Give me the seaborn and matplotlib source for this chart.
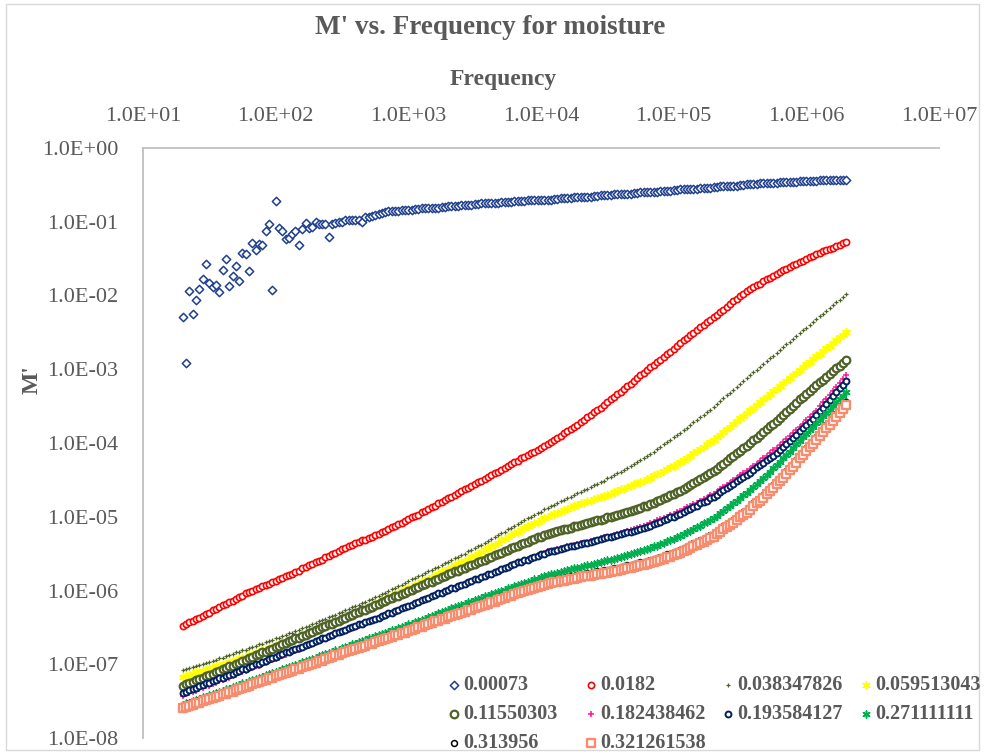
import numpy as np
import matplotlib
matplotlib.use("Agg")
import matplotlib.pyplot as plt
from matplotlib.ticker import FixedLocator, FuncFormatter, NullLocator
from matplotlib.patches import Rectangle
from matplotlib.font_manager import FontProperties
import seaborn as sns

# Measurement frequencies (Hz), 20 Hz to 2 MHz, 40 points per decade
freq = [
    20.0, 21.1, 22.4, 23.7, 25.1, 26.6, 28.2, 29.9, 31.6, 33.5,
    35.5, 37.6, 39.8, 42.2, 44.7, 47.3, 50.1, 53.1, 56.2, 59.6,
    63.1, 66.8, 70.8, 75.0, 79.4, 84.1, 89.1, 94.4,
    100, 106, 112, 119, 126, 133, 141, 150, 158, 168,
    178, 188, 200, 211, 224, 237, 251, 266, 282, 299,
    316, 335, 355, 376, 398, 422, 447, 473, 501, 531,
    562, 596, 631, 668, 708, 750, 794, 841, 891, 944,
    1.00e3, 1.06e3, 1.12e3, 1.19e3, 1.26e3, 1.33e3, 1.41e3, 1.50e3, 1.58e3, 1.68e3,
    1.78e3, 1.88e3, 2.00e3, 2.11e3, 2.24e3, 2.37e3, 2.51e3, 2.66e3, 2.82e3, 2.99e3,
    3.16e3, 3.35e3, 3.55e3, 3.76e3, 3.98e3, 4.22e3, 4.47e3, 4.73e3, 5.01e3, 5.31e3,
    5.62e3, 5.96e3, 6.31e3, 6.68e3, 7.08e3, 7.50e3, 7.94e3, 8.41e3, 8.91e3, 9.44e3,
    1.00e4, 1.06e4, 1.12e4, 1.19e4, 1.26e4, 1.33e4, 1.41e4, 1.50e4, 1.58e4, 1.68e4,
    1.78e4, 1.88e4, 2.00e4, 2.11e4, 2.24e4, 2.37e4, 2.51e4, 2.66e4, 2.82e4, 2.99e4,
    3.16e4, 3.35e4, 3.55e4, 3.76e4, 3.98e4, 4.22e4, 4.47e4, 4.73e4, 5.01e4, 5.31e4,
    5.62e4, 5.96e4, 6.31e4, 6.68e4, 7.08e4, 7.50e4, 7.94e4, 8.41e4, 8.91e4, 9.44e4,
    1.00e5, 1.06e5, 1.12e5, 1.19e5, 1.26e5, 1.33e5, 1.41e5, 1.50e5, 1.58e5, 1.68e5,
    1.78e5, 1.88e5, 2.00e5, 2.11e5, 2.24e5, 2.37e5, 2.51e5, 2.66e5, 2.82e5, 2.99e5,
    3.16e5, 3.35e5, 3.55e5, 3.76e5, 3.98e5, 4.22e5, 4.47e5, 4.73e5, 5.01e5, 5.31e5,
    5.62e5, 5.96e5, 6.31e5, 6.68e5, 7.08e5, 7.50e5, 7.94e5, 8.41e5, 8.91e5, 9.44e5,
    1.00e6, 1.06e6, 1.12e6, 1.19e6, 1.26e6, 1.33e6, 1.41e6, 1.50e6, 1.58e6, 1.68e6,
    1.78e6, 1.88e6, 2.00e6,
]

# Moisture content of each sample (legend labels)
moisture = ["0.00073", "0.0182", "0.038347826", "0.059513043", "0.11550303",
            "0.182438462", "0.193584127", "0.271111111", "0.313956", "0.321261538"]

# M' readings, stored as base-10 exponents (M' = 10 ** value)
m_0_00073 = [
    -2.29, -2.92, -1.94, -2.25, -2.06, -1.91, -1.78, -1.57, -1.83, -1.89,
    -1.86, -1.95, -1.65, -1.50, -1.87, -1.74, -1.60, -1.81, -1.42, -1.44,
    -1.67, -1.29, -1.38, -1.30, -1.31, -1.13, -1.03, -1.92, -0.72, -1.09,
    -1.12, -1.24, -1.22, -1.17, -1.13, -1.32, -1.10, -1.02, -1.08, -1.07,
    -1.00, -1.03, -1.03, -1.03, -1.20, -1.03, -1.02, -1.01, -1.00, -0.98,
    -0.97, -0.98, -0.97, -0.97, -1.00, -0.93, -0.93, -0.92, -0.91, -0.89,
    -0.88, -0.87, -0.86, -0.86, -0.85, -0.85, -0.84, -0.84, -0.84, -0.84,
    -0.83, -0.83, -0.82, -0.82, -0.81, -0.81, -0.81, -0.81, -0.80, -0.80,
    -0.79, -0.79, -0.78, -0.78, -0.77, -0.77, -0.77, -0.77, -0.76, -0.76,
    -0.75, -0.75, -0.75, -0.75, -0.74, -0.74, -0.73, -0.73, -0.73, -0.73,
    -0.72, -0.72, -0.72, -0.72, -0.71, -0.71, -0.71, -0.71, -0.70, -0.70,
    -0.70, -0.70, -0.69, -0.69, -0.68, -0.68, -0.68, -0.68, -0.67, -0.67,
    -0.66, -0.66, -0.66, -0.66, -0.65, -0.65, -0.64, -0.64, -0.64, -0.64,
    -0.63, -0.63, -0.62, -0.62, -0.62, -0.62, -0.61, -0.61, -0.60, -0.60,
    -0.60, -0.60, -0.59, -0.59, -0.58, -0.58, -0.58, -0.58, -0.57, -0.57,
    -0.56, -0.56, -0.56, -0.56, -0.55, -0.55, -0.54, -0.54, -0.54, -0.54,
    -0.53, -0.53, -0.52, -0.52, -0.52, -0.52, -0.51, -0.51, -0.50, -0.50,
    -0.49, -0.49, -0.49, -0.49, -0.48, -0.48, -0.47, -0.47, -0.47, -0.47,
    -0.46, -0.46, -0.46, -0.46, -0.46, -0.46, -0.45, -0.45, -0.45, -0.45,
    -0.45, -0.45, -0.44, -0.44, -0.44, -0.44, -0.44, -0.44, -0.43, -0.43,
    -0.43,
]
m_0_0182 = [
    -6.48,
    -6.46, -6.43, -6.41, -6.39, -6.37, -6.34, -6.32, -6.30, -6.27, -6.25,
    -6.23, -6.20, -6.18, -6.16, -6.14, -6.11, -6.09, -6.07, -6.04, -6.02,
    -6.00, -5.98, -5.96, -5.94, -5.93, -5.91, -5.89, -5.87, -5.85, -5.83,
    -5.81, -5.79, -5.77, -5.75, -5.73, -5.70, -5.68, -5.66, -5.64, -5.62,
    -5.60, -5.58, -5.55, -5.53, -5.51, -5.49, -5.47, -5.44, -5.42, -5.40,
    -5.38, -5.36, -5.34, -5.32, -5.31, -5.29, -5.27, -5.25, -5.23, -5.21,
    -5.19, -5.17, -5.14, -5.12, -5.10, -5.08, -5.06, -5.03, -5.01, -4.99,
    -4.97, -4.94, -4.92, -4.89, -4.87, -4.85, -4.82, -4.80, -4.77, -4.75,
    -4.73, -4.70, -4.68, -4.65, -4.63, -4.61, -4.58, -4.56, -4.53, -4.51,
    -4.49, -4.46, -4.44, -4.41, -4.39, -4.36, -4.34, -4.31, -4.29, -4.26,
    -4.24, -4.21, -4.19, -4.16, -4.14, -4.12, -4.09, -4.07, -4.04, -4.02,
    -3.99, -3.96, -3.93, -3.90, -3.87, -3.84, -3.81, -3.78, -3.75, -3.72,
    -3.69, -3.65, -3.62, -3.58, -3.55, -3.52, -3.48, -3.45, -3.41, -3.38,
    -3.34, -3.31, -3.27, -3.23, -3.20, -3.16, -3.12, -3.08, -3.05, -3.01,
    -2.97, -2.94, -2.90, -2.87, -2.83, -2.79, -2.76, -2.72, -2.69, -2.65,
    -2.61, -2.58, -2.54, -2.51, -2.47, -2.43, -2.40, -2.36, -2.33, -2.29,
    -2.26, -2.22, -2.19, -2.15, -2.12, -2.08, -2.05, -2.01, -1.98, -1.94,
    -1.91, -1.89, -1.86, -1.84, -1.81, -1.78, -1.76, -1.73, -1.71, -1.68,
    -1.66, -1.64, -1.61, -1.59, -1.57, -1.55, -1.53, -1.50, -1.48, -1.46,
    -1.44, -1.42, -1.40, -1.38, -1.37, -1.35, -1.33, -1.31, -1.29, -1.27,
]
m_0_038347826 = [
    -7.08,
    -7.07, -7.05, -7.04, -7.02, -7.01, -7.00, -6.98, -6.97, -6.95, -6.94,
    -6.92, -6.91, -6.89, -6.88, -6.86, -6.84, -6.83, -6.81, -6.80, -6.78,
    -6.76, -6.75, -6.73, -6.72, -6.70, -6.68, -6.67, -6.65, -6.64, -6.62,
    -6.60, -6.58, -6.57, -6.55, -6.53, -6.51, -6.49, -6.48, -6.46, -6.44,
    -6.42, -6.40, -6.38, -6.36, -6.35, -6.33, -6.31, -6.29, -6.27, -6.25,
    -6.23, -6.21, -6.19, -6.17, -6.15, -6.13, -6.11, -6.09, -6.07, -6.05,
    -6.03, -6.01, -5.98, -5.96, -5.94, -5.92, -5.90, -5.87, -5.85, -5.83,
    -5.81, -5.79, -5.76, -5.74, -5.72, -5.70, -5.68, -5.65, -5.63, -5.61,
    -5.59, -5.56, -5.54, -5.52, -5.50, -5.47, -5.45, -5.43, -5.40, -5.38,
    -5.35, -5.33, -5.30, -5.28, -5.25, -5.22, -5.20, -5.17, -5.15, -5.12,
    -5.10, -5.07, -5.05, -5.02, -5.00, -4.98, -4.95, -4.93, -4.90, -4.88,
    -4.86, -4.84, -4.81, -4.79, -4.77, -4.75, -4.73, -4.70, -4.68, -4.66,
    -4.64, -4.62, -4.59, -4.57, -4.55, -4.53, -4.51, -4.48, -4.46, -4.44,
    -4.41, -4.39, -4.36, -4.34, -4.31, -4.28, -4.26, -4.23, -4.21, -4.18,
    -4.15, -4.12, -4.08, -4.05, -4.02, -3.99, -3.96, -3.92, -3.89, -3.86,
    -3.83, -3.79, -3.76, -3.72, -3.69, -3.65, -3.62, -3.58, -3.55, -3.51,
    -3.47, -3.43, -3.39, -3.35, -3.32, -3.28, -3.24, -3.20, -3.16, -3.12,
    -3.08, -3.04, -3.01, -2.97, -2.93, -2.89, -2.85, -2.82, -2.78, -2.74,
    -2.70, -2.66, -2.63, -2.59, -2.55, -2.51, -2.47, -2.44, -2.40, -2.36,
    -2.32, -2.28, -2.25, -2.21, -2.17, -2.13, -2.09, -2.06, -2.02, -1.98,
]
m_0_059513043 = [
    -7.17,
    -7.16, -7.14, -7.13, -7.11, -7.10, -7.09, -7.07, -7.06, -7.04, -7.03,
    -7.02, -7.00, -6.99, -6.97, -6.96, -6.94, -6.93, -6.91, -6.90, -6.88,
    -6.86, -6.85, -6.83, -6.81, -6.80, -6.78, -6.76, -6.74, -6.73, -6.71,
    -6.69, -6.68, -6.66, -6.64, -6.63, -6.61, -6.59, -6.57, -6.56, -6.54,
    -6.52, -6.50, -6.48, -6.46, -6.45, -6.43, -6.41, -6.39, -6.37, -6.35,
    -6.33, -6.31, -6.29, -6.27, -6.25, -6.22, -6.20, -6.18, -6.16, -6.14,
    -6.12, -6.10, -6.08, -6.06, -6.04, -6.01, -5.99, -5.97, -5.95, -5.93,
    -5.91, -5.89, -5.86, -5.84, -5.82, -5.80, -5.78, -5.75, -5.73, -5.71,
    -5.69, -5.66, -5.64, -5.62, -5.60, -5.57, -5.55, -5.53, -5.50, -5.48,
    -5.45, -5.43, -5.40, -5.38, -5.35, -5.32, -5.30, -5.27, -5.25, -5.22,
    -5.20, -5.18, -5.15, -5.13, -5.11, -5.09, -5.07, -5.04, -5.02, -5.00,
    -4.98, -4.96, -4.95, -4.93, -4.91, -4.89, -4.87, -4.86, -4.84, -4.82,
    -4.81, -4.79, -4.78, -4.76, -4.75, -4.73, -4.72, -4.70, -4.69, -4.67,
    -4.65, -4.63, -4.62, -4.60, -4.58, -4.56, -4.54, -4.53, -4.51, -4.49,
    -4.47, -4.44, -4.42, -4.40, -4.38, -4.35, -4.33, -4.31, -4.28, -4.26,
    -4.23, -4.20, -4.17, -4.14, -4.11, -4.08, -4.05, -4.02, -3.99, -3.96,
    -3.92, -3.89, -3.85, -3.81, -3.78, -3.74, -3.70, -3.66, -3.63, -3.59,
    -3.55, -3.52, -3.48, -3.45, -3.41, -3.37, -3.34, -3.30, -3.27, -3.23,
    -3.19, -3.16, -3.12, -3.08, -3.05, -3.01, -2.97, -2.93, -2.90, -2.86,
    -2.82, -2.79, -2.75, -2.71, -2.68, -2.64, -2.60, -2.56, -2.53, -2.49,
]
m_0_11550303 = [
    -7.29,
    -7.27, -7.25, -7.24, -7.22, -7.20, -7.18, -7.16, -7.15, -7.13, -7.11,
    -7.09, -7.07, -7.05, -7.03, -7.02, -7.00, -6.98, -6.96, -6.94, -6.92,
    -6.90, -6.88, -6.86, -6.84, -6.83, -6.81, -6.79, -6.77, -6.75, -6.73,
    -6.71, -6.69, -6.67, -6.65, -6.64, -6.62, -6.60, -6.58, -6.56, -6.54,
    -6.52, -6.50, -6.48, -6.46, -6.45, -6.43, -6.41, -6.39, -6.37, -6.35,
    -6.33, -6.31, -6.29, -6.27, -6.26, -6.24, -6.22, -6.20, -6.18, -6.16,
    -6.14, -6.12, -6.10, -6.08, -6.07, -6.05, -6.03, -6.01, -5.99, -5.97,
    -5.95, -5.93, -5.91, -5.89, -5.88, -5.86, -5.84, -5.82, -5.80, -5.78,
    -5.76, -5.74, -5.73, -5.71, -5.69, -5.67, -5.65, -5.64, -5.62, -5.60,
    -5.58, -5.56, -5.54, -5.52, -5.51, -5.49, -5.47, -5.45, -5.43, -5.41,
    -5.39, -5.37, -5.36, -5.34, -5.32, -5.30, -5.28, -5.27, -5.25, -5.23,
    -5.22, -5.21, -5.19, -5.18, -5.17, -5.16, -5.15, -5.13, -5.12, -5.11,
    -5.10, -5.09, -5.07, -5.06, -5.05, -5.04, -5.03, -5.01, -5.00, -4.99,
    -4.98, -4.96, -4.95, -4.93, -4.92, -4.91, -4.89, -4.88, -4.86, -4.85,
    -4.83, -4.81, -4.79, -4.77, -4.75, -4.73, -4.71, -4.69, -4.67, -4.65,
    -4.62, -4.60, -4.57, -4.54, -4.52, -4.49, -4.46, -4.43, -4.41, -4.38,
    -4.35, -4.31, -4.28, -4.24, -4.21, -4.18, -4.14, -4.11, -4.07, -4.04,
    -4.00, -3.96, -3.93, -3.89, -3.85, -3.81, -3.77, -3.74, -3.70, -3.66,
    -3.62, -3.58, -3.54, -3.50, -3.46, -3.41, -3.37, -3.33, -3.29, -3.25,
    -3.21, -3.17, -3.14, -3.10, -3.06, -3.02, -2.98, -2.95, -2.91, -2.87,
]
m_0_182438462 = [
    -7.43,
    -7.41, -7.39, -7.38, -7.36, -7.34, -7.32, -7.30, -7.29, -7.27, -7.25,
    -7.23, -7.21, -7.20, -7.18, -7.16, -7.14, -7.12, -7.11, -7.09, -7.07,
    -7.05, -7.03, -7.02, -7.00, -6.98, -6.96, -6.94, -6.93, -6.91, -6.89,
    -6.87, -6.85, -6.84, -6.82, -6.80, -6.78, -6.76, -6.75, -6.73, -6.71,
    -6.69, -6.67, -6.66, -6.64, -6.62, -6.60, -6.58, -6.57, -6.55, -6.53,
    -6.51, -6.50, -6.48, -6.46, -6.45, -6.43, -6.41, -6.39, -6.38, -6.36,
    -6.34, -6.32, -6.31, -6.29, -6.27, -6.25, -6.23, -6.22, -6.20, -6.18,
    -6.16, -6.14, -6.13, -6.11, -6.09, -6.07, -6.05, -6.04, -6.02, -6.00,
    -5.98, -5.96, -5.95, -5.93, -5.91, -5.89, -5.87, -5.86, -5.84, -5.82,
    -5.80, -5.78, -5.77, -5.75, -5.73, -5.71, -5.69, -5.68, -5.66, -5.64,
    -5.62, -5.61, -5.59, -5.57, -5.56, -5.54, -5.52, -5.50, -5.49, -5.47,
    -5.46, -5.45, -5.44, -5.43, -5.42, -5.40, -5.39, -5.38, -5.37, -5.36,
    -5.35, -5.34, -5.33, -5.32, -5.31, -5.29, -5.28, -5.27, -5.26, -5.25,
    -5.24, -5.22, -5.21, -5.19, -5.18, -5.17, -5.15, -5.14, -5.12, -5.11,
    -5.09, -5.07, -5.05, -5.03, -5.02, -5.00, -4.98, -4.96, -4.94, -4.92,
    -4.90, -4.87, -4.85, -4.83, -4.81, -4.78, -4.76, -4.74, -4.71, -4.69,
    -4.66, -4.63, -4.60, -4.57, -4.54, -4.50, -4.47, -4.44, -4.41, -4.38,
    -4.35, -4.31, -4.28, -4.24, -4.21, -4.17, -4.14, -4.10, -4.07, -4.03,
    -3.99, -3.95, -3.90, -3.86, -3.82, -3.78, -3.74, -3.69, -3.65, -3.61,
    -3.56, -3.50, -3.45, -3.40, -3.35, -3.29, -3.24, -3.19, -3.13, -3.08,
]
m_0_193584127 = [
    -7.39,
    -7.37, -7.35, -7.34, -7.32, -7.30, -7.28, -7.26, -7.25, -7.23, -7.21,
    -7.19, -7.18, -7.16, -7.14, -7.13, -7.11, -7.09, -7.07, -7.06, -7.04,
    -7.02, -7.00, -6.99, -6.97, -6.95, -6.93, -6.91, -6.90, -6.88, -6.86,
    -6.84, -6.83, -6.81, -6.79, -6.78, -6.76, -6.74, -6.72, -6.71, -6.69,
    -6.67, -6.65, -6.64, -6.62, -6.60, -6.58, -6.56, -6.55, -6.53, -6.51,
    -6.49, -6.48, -6.46, -6.45, -6.43, -6.41, -6.40, -6.38, -6.37, -6.35,
    -6.33, -6.31, -6.30, -6.28, -6.26, -6.24, -6.22, -6.21, -6.19, -6.17,
    -6.15, -6.13, -6.12, -6.10, -6.08, -6.06, -6.04, -6.03, -6.01, -5.99,
    -5.97, -5.96, -5.94, -5.92, -5.91, -5.89, -5.87, -5.85, -5.84, -5.82,
    -5.80, -5.78, -5.77, -5.75, -5.73, -5.71, -5.69, -5.68, -5.66, -5.64,
    -5.62, -5.61, -5.59, -5.58, -5.56, -5.54, -5.53, -5.51, -5.50, -5.48,
    -5.47, -5.46, -5.45, -5.44, -5.43, -5.41, -5.40, -5.39, -5.38, -5.37,
    -5.36, -5.35, -5.34, -5.33, -5.32, -5.30, -5.29, -5.28, -5.27, -5.26,
    -5.25, -5.24, -5.22, -5.21, -5.20, -5.19, -5.18, -5.16, -5.15, -5.14,
    -5.12, -5.10, -5.09, -5.07, -5.05, -5.03, -5.01, -5.00, -4.98, -4.96,
    -4.94, -4.91, -4.89, -4.87, -4.85, -4.82, -4.80, -4.78, -4.75, -4.73,
    -4.70, -4.67, -4.64, -4.61, -4.58, -4.55, -4.52, -4.49, -4.46, -4.43,
    -4.40, -4.36, -4.33, -4.30, -4.27, -4.23, -4.20, -4.17, -4.13, -4.10,
    -4.06, -4.01, -3.97, -3.93, -3.89, -3.84, -3.80, -3.76, -3.71, -3.67,
    -3.62, -3.57, -3.52, -3.47, -3.42, -3.36, -3.31, -3.26, -3.21, -3.16,
]
m_0_271111111 = [
    -7.55,
    -7.53, -7.52, -7.50, -7.49, -7.47, -7.45, -7.44, -7.42, -7.41, -7.39,
    -7.37, -7.36, -7.34, -7.33, -7.31, -7.29, -7.28, -7.26, -7.25, -7.23,
    -7.21, -7.20, -7.18, -7.17, -7.15, -7.13, -7.12, -7.10, -7.09, -7.07,
    -7.05, -7.04, -7.02, -7.01, -6.99, -6.97, -6.96, -6.94, -6.93, -6.91,
    -6.89, -6.88, -6.86, -6.85, -6.83, -6.81, -6.80, -6.78, -6.77, -6.75,
    -6.73, -6.72, -6.70, -6.69, -6.67, -6.65, -6.64, -6.62, -6.61, -6.59,
    -6.57, -6.56, -6.54, -6.53, -6.51, -6.49, -6.48, -6.46, -6.45, -6.43,
    -6.41, -6.40, -6.38, -6.36, -6.35, -6.33, -6.31, -6.29, -6.28, -6.26,
    -6.24, -6.23, -6.21, -6.20, -6.18, -6.16, -6.15, -6.13, -6.12, -6.10,
    -6.08, -6.07, -6.05, -6.04, -6.02, -6.00, -5.99, -5.97, -5.96, -5.94,
    -5.93, -5.91, -5.90, -5.88, -5.87, -5.85, -5.84, -5.82, -5.81, -5.79,
    -5.78, -5.77, -5.76, -5.75, -5.74, -5.72, -5.71, -5.70, -5.69, -5.68,
    -5.67, -5.66, -5.65, -5.64, -5.63, -5.61, -5.60, -5.59, -5.58, -5.57,
    -5.56, -5.54, -5.53, -5.52, -5.51, -5.49, -5.48, -5.47, -5.45, -5.44,
    -5.42, -5.40, -5.39, -5.37, -5.35, -5.33, -5.31, -5.30, -5.28, -5.26,
    -5.24, -5.21, -5.19, -5.16, -5.14, -5.12, -5.09, -5.07, -5.04, -5.02,
    -4.99, -4.95, -4.92, -4.88, -4.85, -4.82, -4.78, -4.75, -4.71, -4.68,
    -4.64, -4.60, -4.55, -4.51, -4.47, -4.43, -4.39, -4.34, -4.30, -4.26,
    -4.21, -4.16, -4.12, -4.07, -4.02, -3.97, -3.92, -3.88, -3.83, -3.78,
    -3.73, -3.69, -3.64, -3.59, -3.55, -3.50, -3.45, -3.40, -3.36, -3.31,
]
m_0_313956 = [
    -7.56,
    -7.55, -7.53, -7.52, -7.50, -7.49, -7.47, -7.46, -7.44, -7.43, -7.41,
    -7.40, -7.38, -7.37, -7.35, -7.34, -7.32, -7.31, -7.29, -7.28, -7.26,
    -7.24, -7.23, -7.21, -7.20, -7.18, -7.16, -7.15, -7.13, -7.12, -7.10,
    -7.09, -7.07, -7.06, -7.04, -7.03, -7.01, -7.00, -6.98, -6.97, -6.95,
    -6.93, -6.92, -6.90, -6.89, -6.87, -6.85, -6.84, -6.82, -6.81, -6.79,
    -6.78, -6.76, -6.75, -6.73, -6.72, -6.70, -6.69, -6.67, -6.66, -6.64,
    -6.63, -6.61, -6.60, -6.58, -6.57, -6.55, -6.54, -6.52, -6.51, -6.49,
    -6.47, -6.46, -6.44, -6.43, -6.41, -6.39, -6.38, -6.36, -6.35, -6.33,
    -6.32, -6.30, -6.29, -6.27, -6.26, -6.24, -6.23, -6.21, -6.20, -6.18,
    -6.16, -6.15, -6.13, -6.12, -6.10, -6.08, -6.07, -6.05, -6.04, -6.02,
    -6.01, -5.99, -5.98, -5.96, -5.95, -5.94, -5.92, -5.91, -5.89, -5.88,
    -5.87, -5.86, -5.85, -5.84, -5.83, -5.82, -5.81, -5.80, -5.79, -5.78,
    -5.77, -5.76, -5.76, -5.75, -5.74, -5.73, -5.72, -5.72, -5.71, -5.70,
    -5.69, -5.68, -5.67, -5.66, -5.65, -5.64, -5.63, -5.62, -5.61, -5.60,
    -5.59, -5.57, -5.56, -5.54, -5.53, -5.51, -5.50, -5.48, -5.47, -5.45,
    -5.43, -5.41, -5.38, -5.36, -5.34, -5.32, -5.30, -5.27, -5.25, -5.23,
    -5.20, -5.17, -5.13, -5.10, -5.07, -5.04, -5.01, -4.97, -4.94, -4.91,
    -4.87, -4.82, -4.78, -4.74, -4.70, -4.65, -4.61, -4.57, -4.52, -4.48,
    -4.43, -4.38, -4.33, -4.28, -4.23, -4.17, -4.12, -4.07, -4.02, -3.97,
    -3.92, -3.87, -3.81, -3.76, -3.71, -3.66, -3.61, -3.55, -3.50, -3.45,
]
m_0_321261538 = [
    -7.59,
    -7.58, -7.56, -7.55, -7.53, -7.52, -7.50, -7.49, -7.47, -7.46, -7.44,
    -7.43, -7.41, -7.40, -7.38, -7.37, -7.35, -7.34, -7.32, -7.31, -7.29,
    -7.27, -7.26, -7.24, -7.23, -7.21, -7.19, -7.18, -7.16, -7.15, -7.13,
    -7.12, -7.10, -7.09, -7.07, -7.06, -7.04, -7.03, -7.01, -7.00, -6.98,
    -6.96, -6.95, -6.93, -6.92, -6.90, -6.88, -6.87, -6.85, -6.84, -6.82,
    -6.81, -6.79, -6.78, -6.76, -6.75, -6.73, -6.72, -6.70, -6.69, -6.67,
    -6.66, -6.64, -6.63, -6.61, -6.60, -6.58, -6.57, -6.55, -6.54, -6.52,
    -6.50, -6.49, -6.47, -6.46, -6.44, -6.42, -6.41, -6.39, -6.38, -6.36,
    -6.35, -6.33, -6.32, -6.30, -6.29, -6.27, -6.26, -6.24, -6.23, -6.21,
    -6.19, -6.18, -6.16, -6.15, -6.13, -6.11, -6.10, -6.08, -6.07, -6.05,
    -6.04, -6.02, -6.01, -5.99, -5.98, -5.97, -5.95, -5.94, -5.92, -5.91,
    -5.90, -5.89, -5.88, -5.87, -5.87, -5.86, -5.85, -5.84, -5.83, -5.82,
    -5.81, -5.80, -5.80, -5.79, -5.78, -5.77, -5.76, -5.76, -5.75, -5.74,
    -5.73, -5.72, -5.71, -5.70, -5.69, -5.68, -5.67, -5.66, -5.65, -5.64,
    -5.63, -5.61, -5.60, -5.58, -5.57, -5.55, -5.54, -5.52, -5.51, -5.49,
    -5.47, -5.45, -5.42, -5.40, -5.38, -5.36, -5.34, -5.31, -5.29, -5.27,
    -5.24, -5.21, -5.17, -5.14, -5.11, -5.08, -5.05, -5.01, -4.98, -4.95,
    -4.91, -4.86, -4.82, -4.78, -4.74, -4.69, -4.65, -4.61, -4.56, -4.52,
    -4.47, -4.42, -4.37, -4.32, -4.27, -4.21, -4.16, -4.11, -4.06, -4.01,
    -3.96, -3.91, -3.85, -3.80, -3.75, -3.70, -3.65, -3.59, -3.54, -3.49,
]

# Tick positions (decades)
x_ticks = [1e1, 1e2, 1e3, 1e4, 1e5, 1e6, 1e7]
y_ticks = [1e-8, 1e-7, 1e-6, 1e-5, 1e-4, 1e-3, 1e-2, 1e-1, 1e0]

series = [m_0_00073, m_0_0182, m_0_038347826, m_0_059513043, m_0_11550303,
          m_0_182438462, m_0_193584127, m_0_271111111, m_0_313956, m_0_321261538]

# marker, size, face colour, edge colour, line width
styles = [
    ("D", 18, "white", "#1F3F8F", 1.1),
    ("o", 20, "white", "#FF0000", 1.2),
    ("+", 12, None, "#4F6228", 0.9),
    ((6, 2, 0), 30, None, "#FFFF00", 1.1),
    ("o", 30, "white", "#4F6228", 1.6),
    ("+", 22, None, "#FF1493", 1.1),
    ("o", 18, "white", "#002060", 1.4),
    ((6, 2, 0), 26, None, "#00B050", 1.1),
    ("o", 18, "white", "#000000", 1.1),
    ("s", 26, "white", "#F88C6F", 1.7),
]

W, H = 985, 754
TXT = "#595959"

sns.set_style("white")
plt.rcParams["font.family"] = ["Liberation Serif", "DejaVu Serif"]

fig = plt.figure(figsize=(W / 100, H / 100), dpi=100)
ax = fig.add_axes([143 / W, 1 - 738 / H, (939 - 143) / W, (738 - 148) / H])
ax.set_xscale("log")
ax.set_yscale("log")

handles = []
for vals, (mk, sz, face, edge, lw) in zip(series, styles):
    y = np.power(10.0, np.asarray(vals))
    fill = edge if face is None else face
    sns.scatterplot(x=freq, y=y, ax=ax, marker=mk, s=sz, color=fill,
                    edgecolor=edge, linewidth=lw, legend=False)
    handles.append(ax.collections[-1])

ax.set_xlim(1e1, 1e7)
ax.set_ylim(1e-8, 1e0)
ax.xaxis.set_major_locator(FixedLocator(x_ticks))
ax.yaxis.set_major_locator(FixedLocator(y_ticks))
ax.xaxis.set_minor_locator(NullLocator())
ax.yaxis.set_minor_locator(NullLocator())
sci = FuncFormatter(lambda v, _: f"{v:.1E}")
ax.xaxis.set_major_formatter(sci)
ax.yaxis.set_major_formatter(sci)
ax.xaxis.set_ticks_position("top")
ax.tick_params(axis="x", length=0, pad=16, labelsize=16, labelcolor=TXT)
ax.tick_params(axis="y", length=0, pad=18, labelsize=16, labelcolor=TXT)
ax.grid(False)

for side in ("right", "bottom"):
    ax.spines[side].set_visible(False)
for side in ("top", "left"):
    ax.spines[side].set_color("#BFBFBF")
    ax.spines[side].set_linewidth(1.3)

fig.text(490 / W, 1 - 28 / H, "M' vs. Frequency for moisture", ha="center", va="center",
         fontsize=19.5, fontweight="bold", color=TXT)
fig.text(503 / W, 1 - 79 / H, "Frequency", ha="center", va="center",
         fontsize=17, fontweight="bold", color=TXT)
fig.text(32 / W, 1 - 380 / H, "M'", ha="center", va="center", rotation=90,
         fontsize=17, fontweight="bold", color=TXT)

# Legend laid out row by row in four columns
leg_font = FontProperties(family=["Liberation Serif"], weight="bold", size=14.5)
columns = [[0, 4, 8], [1, 5, 9], [2, 6], [3, 7]]
marker_x = [454, 591, 728, 866]
for idx, mx in zip(columns, marker_x):
    fig.legend([handles[i] for i in idx], [moisture[i] for i in idx],
               loc="upper left", bbox_to_anchor=((mx - 6) / W, 1 - 675 / H),
               frameon=False, borderpad=0, borderaxespad=0, handlelength=0.6,
               handletextpad=0.15, labelspacing=0.45, prop=leg_font,
               labelcolor=TXT, scatterpoints=1)

fig.add_artist(Rectangle((6 / W, 4 / H), (979 - 6) / W, (750 - 4) / H,
                         transform=fig.transFigure, fill=False,
                         edgecolor="#D9D9D9", linewidth=1.0))

fig.savefig("out.png", dpi=100)
